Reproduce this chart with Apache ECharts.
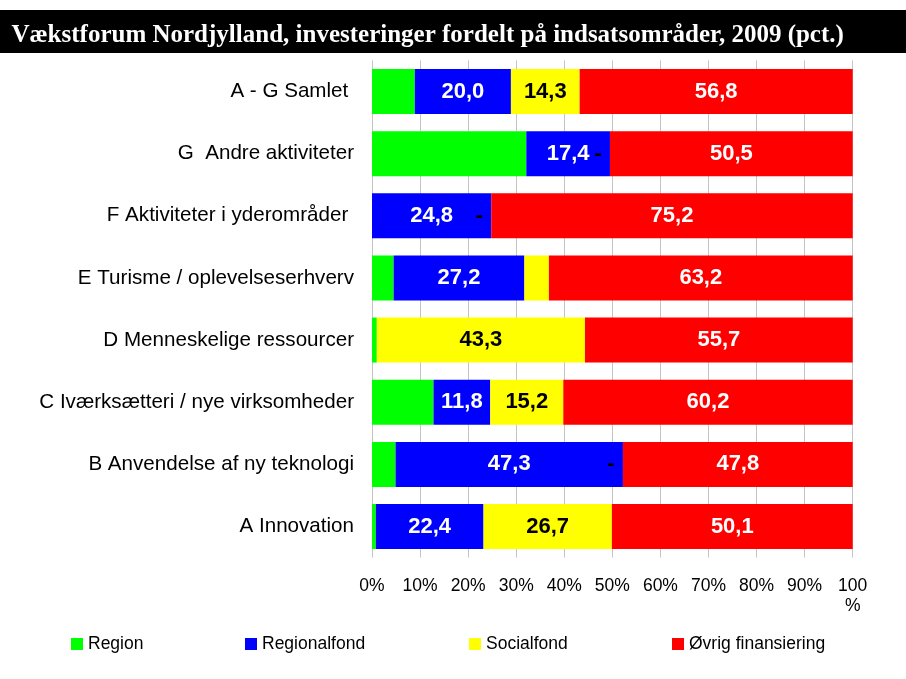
<!DOCTYPE html>
<html>
<head>
<meta charset="utf-8">
<script src="https://cdn.jsdelivr.net/npm/echarts@6/dist/echarts.min.js"></script>
<style>
html,body{margin:0;padding:0;background:#fff;}
#chart{width:906px;height:679px;}
</style>
</head>
<body>
<div id="chart"></div>
<script>
var titleText = 'Vækstforum Nordjylland, investeringer fordelt på indsatsområder, 2009 (pct.)';
var categories = [
  'A - G Samlet ',
  'G  Andre aktiviteter',
  'F Aktiviteter i yderområder ',
  'E Turisme / oplevelseserhverv',
  'D Menneskelige ressourcer',
  'C Iværksætteri / nye virksomheder',
  'B Anvendelse af ny teknologi',
  'A Innovation'
];
var seriesNames = ['Region', 'Regionalfond', 'Socialfond', 'Øvrig finansiering'];
var region     = [8.9, 32.1, 0, 4.5, 1.0, 12.8, 4.9, 0.8];
var regional   = [20.0, 17.4, 24.8, 27.2, 0, 11.8, 47.3, 22.4];
var social     = [14.3, 0, 0, 5.1, 43.3, 15.2, 0, 26.7];
var ovrig      = [56.8, 50.5, 75.2, 63.2, 55.7, 60.2, 47.8, 50.1];
var tickValues = [0, 10, 20, 30, 40, 50, 60, 70, 80, 90, 100];
var colors = ['#00ff00', '#0000ff', '#ffff00', '#ff0000'];

function fmt(v) { return v.toFixed(1).replace('.', ','); }

var chart = echarts.init(document.getElementById('chart'), null, {renderer: 'canvas'});

var labelFont = {fontFamily: 'Liberation Sans, Arial, sans-serif', fontWeight: 'bold', fontSize: 22};

function mkSeries(idx, data, labelCfg) {
  return {
    name: seriesNames[idx],
    type: 'bar',
    stack: 'total',
    barWidth: 45,
    data: data,
    itemStyle: {color: colors[idx]},
    label: labelCfg,
    emphasis: {disabled: true},
    animation: false
  };
}

var series = [
  mkSeries(0, region, {show: false}),
  mkSeries(1, regional, Object.assign({
    show: true, position: 'inside', color: '#ffffff',
    formatter: function (p) { return p.value >= 10 ? fmt(p.value) : ''; }
  }, labelFont)),
  {
    name: seriesNames[2], type: 'bar', stack: 'total', barWidth: 45,
    itemStyle: {color: colors[2]}, emphasis: {disabled: true}, animation: false,
    data: social.map(function (v) {
      if (v === 0) {
        return {value: v, label: Object.assign({show: true, position: 'inside', color: '#000', offset: [-12, 0], formatter: '-'}, labelFont)};
      }
      return {value: v};
    }),
    label: Object.assign({
      show: true, position: 'inside', color: '#000000',
      formatter: function (p) { return p.value >= 10 ? fmt(p.value) : ''; }
    }, labelFont)
  },
  mkSeries(3, ovrig, Object.assign({
    show: true, position: 'inside', color: '#ffffff',
    formatter: function (p) { return fmt(p.value); }
  }, labelFont))
];

var legendLefts = [71, 245, 469, 672];
var legends = seriesNames.map(function (n, i) {
  return {
    data: [{name: n, icon: 'rect'}],
    left: legendLefts[i],
    top: 635,
    padding: 0,
    itemWidth: 12,
    itemHeight: 12,
    itemGap: 5,
    selectedMode: false,
    textStyle: {fontFamily: 'Liberation Sans, Arial, sans-serif', fontSize: 17.5, color: '#000'}
  };
});

var option = {
  backgroundColor: '#ffffff',
  animation: false,
  title: {
    text: titleText,
    left: 11.5,
    top: 23.5,
    padding: 0,
    textStyle: {
      fontFamily: 'Liberation Serif, Times New Roman, serif',
      fontWeight: 'bold',
      fontSize: 25,
      color: '#ffffff'
    }
  },
  graphic: [{
    type: 'rect', left: 0, top: 10, z: -10,
    shape: {width: 906, height: 43},
    style: {fill: '#000000'}
  }],
  legend: legends,
  grid: {left: 372, right: 53.3, top: 60.4, bottom: 121.4, containLabel: false},
  xAxis: {
    type: 'value', min: 0, max: 100, interval: 10,
    axisLine: {show: false}, axisTick: {show: false},
    splitLine: {show: true, lineStyle: {color: '#c4c4c4', width: 1}},
    axisLabel: {
      margin: 19,
      fontFamily: 'Liberation Sans, Arial, sans-serif', fontSize: 17.5, color: '#000',
      lineHeight: 20,
      formatter: function (v) { return tickValues.indexOf(v) >= 0 ? (v === 100 ? '100\n%' : v + '%') : ''; }
    }
  },
  yAxis: {
    type: 'category', data: categories, inverse: true,
    axisLine: {show: false}, axisTick: {show: false},
    axisLabel: {
      margin: 18,
      fontFamily: 'Liberation Sans, Arial, sans-serif', fontSize: 20.6, color: '#000'
    }
  },
  series: series
};
chart.setOption(option);
</script>
</body>
</html>
